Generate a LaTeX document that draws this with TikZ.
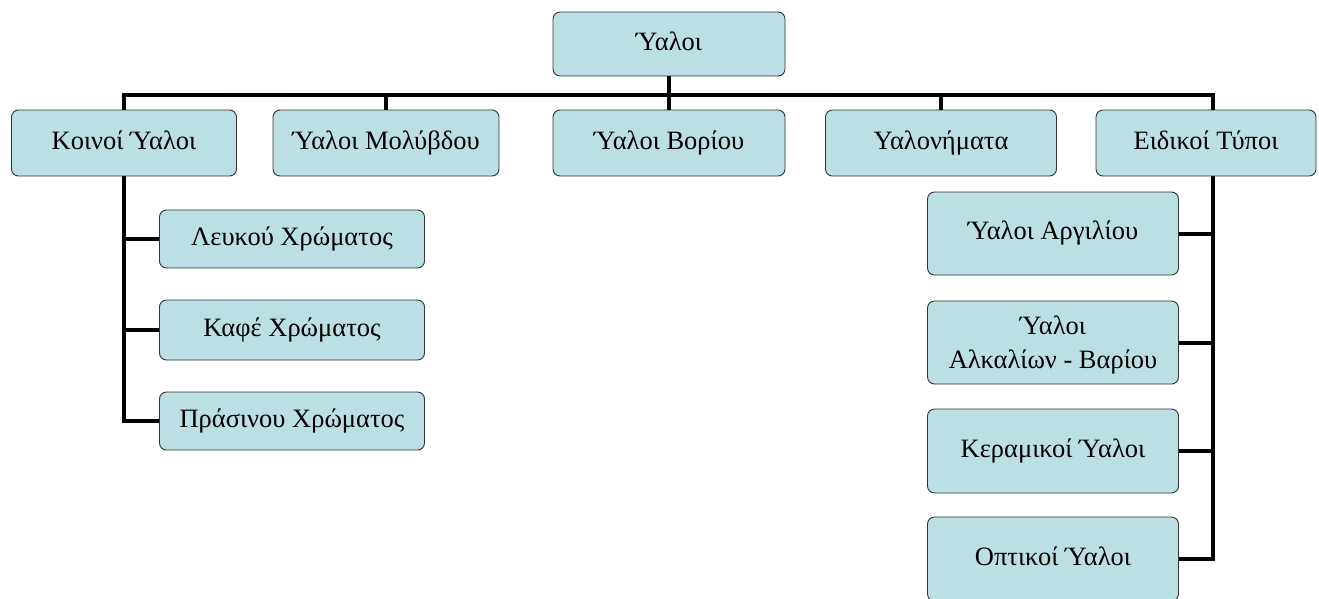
\documentclass[tikz,border=0pt]{standalone}
\usepackage{fontspec}
\setmainfont{Liberation Serif}
\begin{document}
\begin{tikzpicture}[x=1pt,y=-1pt,
  box/.style={draw=black!80, line width=0.9pt, fill=boxfill, rounded corners=7pt,
    inner sep=0pt, align=center, text height=1.2em, text depth=0em,
    font=\fontsize{26.5}{34}\selectfont},
  conn/.style={line width=4pt, black}]
\definecolor{boxfill}{HTML}{BBE0E3}
\path[use as bounding box] (0,0) rectangle (1319,598);
\clip (0,0) rectangle (1319,598);
% top
\node[box, minimum width=232pt, minimum height=64pt] (top) at (669,44) {Ύαλοι};
\coordinate (bus) at (669,95);
% level 1
\node[box, minimum width=225pt, minimum height=66pt] (k1) at (124,143) {Κοινοί Ύαλοι};
\node[box, minimum width=226pt, minimum height=66pt] (k2) at (386,143) {Ύαλοι Μολύβδου};
\node[box, minimum width=232pt, minimum height=66pt] (k3) at (669,143) {Ύαλοι Βορίου};
\node[box, minimum width=231pt, minimum height=66pt] (k4) at (941,143) {Υαλονήματα};
\node[box, minimum width=220pt, minimum height=66pt] (k5) at (1206,143) {Ειδικοί Τύποι};
\coordinate (espine) at (1213,176);
% left children
\node[box, minimum width=265pt, minimum height=58pt] (l1) at (292,239) {Λευκού Χρώματος};
\node[box, minimum width=265pt, minimum height=60pt] (l2) at (292,330) {Καφέ Χρώματος};
\node[box, minimum width=265pt, minimum height=58pt] (l3) at (292,421) {Πράσινου Χρώματος};
% right children
\node[box, minimum width=251pt, minimum height=83pt] (r1) at (1053,233.5) {Ύαλοι Αργιλίου};
\node[box, minimum width=251pt, minimum height=83pt, text height=, text depth=0pt] (r2) at (1053,342.5) {Ύαλοι\\Αλκαλίων - Βαρίου};
\node[box, minimum width=251pt, minimum height=84pt] (r3) at (1053,451) {Κεραμικοί Ύαλοι};
\node[box, minimum width=251pt, minimum height=84pt] (r4) at (1053,559) {Οπτικοί Ύαλοι};
% connectors
\draw[conn] (top.south) -- (bus);
\draw[conn] (bus) -| (k1.north);
\draw[conn] (bus) -| (k2.north);
\draw[conn] (bus) -- (k3.north);
\draw[conn] (bus) -| (k4.north);
\draw[conn] (bus) -| (espine |- k5.north);
\draw[conn] (l1.west) -| (k1.south);
\draw[conn] (l2.west) -| (k1.south);
\draw[conn] (l3.west) -| (k1.south);
\draw[conn] (r4.east) -| (espine);
\draw[conn] (r1.east) -- (r1.east -| espine);
\draw[conn] (r2.east) -- (r2.east -| espine);
\draw[conn] (r3.east) -- (r3.east -| espine);
\end{tikzpicture}
\end{document}
